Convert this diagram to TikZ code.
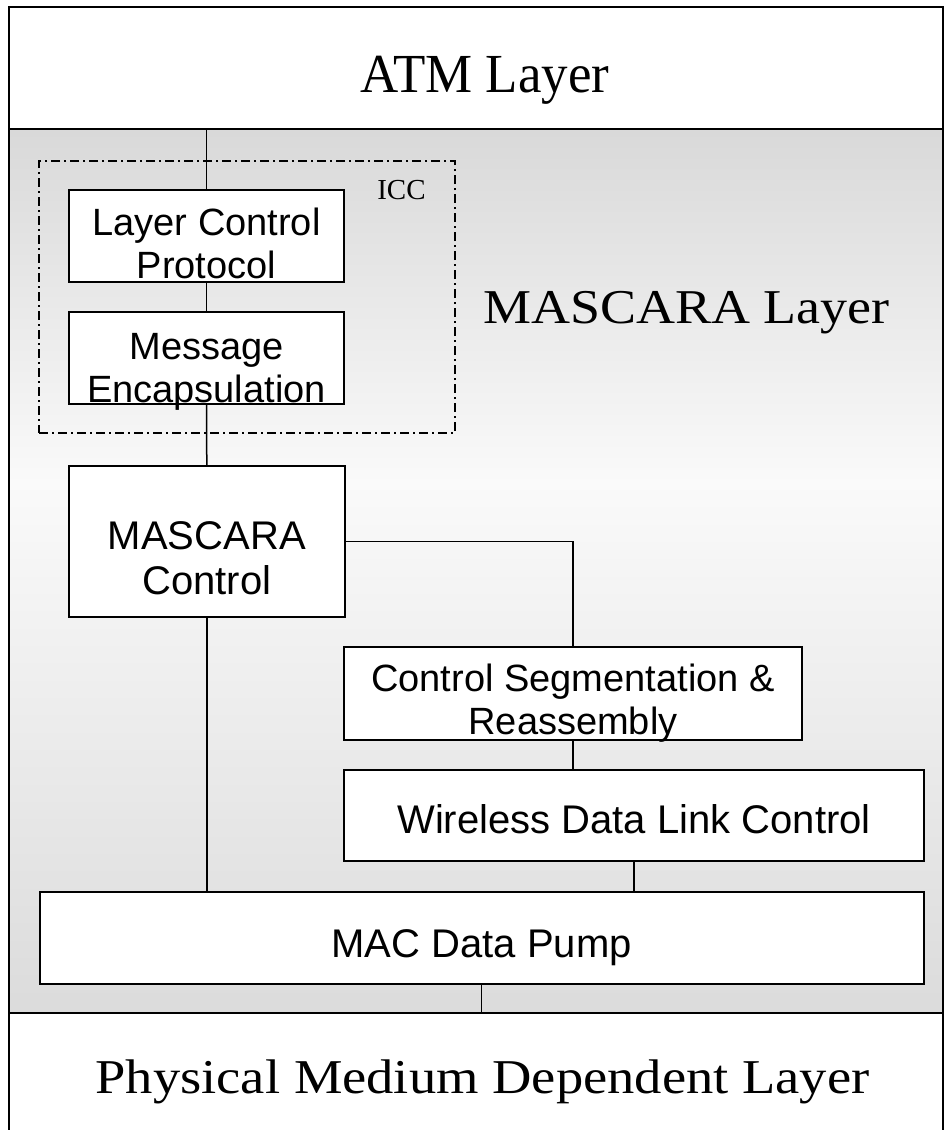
\documentclass[tikz,border=0pt]{standalone}
\usepackage{fontspec}
\setmainfont{Liberation Serif}
\newfontfamily\arialf{Liberation Sans}
\usetikzlibrary{calc}
\pgfdeclareverticalshading{mascshade}{100bp}{color(0bp)=(black!14); color(25bp)=(black!14); color(55bp)=(black!2); color(75bp)=(black!15); color(100bp)=(black!15)}
\newcommand{\twolns}[2]{\begin{tabular}[b]{@{}c@{}}#1\\#2\end{tabular}}
\begin{document}
\begin{tikzpicture}[x=0.5pt,y=-0.5pt,
  frameline/.style={line width=1.3pt, line cap=rect},
  boxnode/.style={draw, line width=1pt, fill=white, inner sep=0pt, anchor=base,
    font=\arialf\fontsize{19}{21.5}\selectfont},
  bigbox/.style={boxnode, font=\arialf\fontsize{20}{22.5}\selectfont},
  conn/.style={line width=0.75pt},
  iccbox/.style={draw, line width=0.65pt, dash pattern=on 4.5pt off 2pt on 1pt off 2pt, inner sep=0pt},
  bigtext/.style={inner sep=0pt, anchor=base, font=\fontsize{27}{30}\selectfont},
  icctext/.style={inner sep=0pt, anchor=base, font=\fontsize{14.5}{16}\selectfont}]
\useasboundingbox (0,0) rectangle (946,1130);
\fill[white] (0,0) rectangle (946,1130);
% MASCARA layer shaded band
\shade[shading=mascshade] (9,129) rectangle (943,1013);
% frame
\coordinate (septop) at (9,129);
\coordinate (sepbot) at (9,1013);
\draw[frameline] (9,1145) -- (9,7) -- (943,7) -- (943,1145);
\draw[frameline] (septop) -- (943,129);
\draw[frameline] (sepbot) -- (943,1013);
% layer titles
\node[bigtext] (atm) at (485,92) {\scalebox{0.98}[1.02]{ATM Layer}};
\node[bigtext] (masc) at (686.5,323) {\scalebox{1}[0.9]{MASCARA Layer}};
\node[bigtext] (pmd) at (482.5,1093) {\scalebox{1.01}[0.9]{Physical Medium Dependent Layer}};
% ICC
\node[iccbox, minimum width=208pt, minimum height=136pt] (icc) at (247,297) {};
\node[icctext] (icclabel) at (401.5,199) {ICC};
% boxes
\node[boxnode, minimum width=137.5pt, text height=44pt, text depth=2pt] (lcp) at (206.5,278) {\twolns{Layer Control}{Protocol}};
\node[boxnode, minimum width=137.5pt, text height=45pt, text depth=1pt] (me) at (206.5,402) {\twolns{Message}{Encapsulation}};
\node[bigbox, minimum width=137.75pt, text height=64pt, text depth=11.5pt] (mc) at (206.8,594) {\twolns{MASCARA}{Control}};
\node[boxnode, minimum width=229pt, text height=43.5pt, text depth=3pt] (csr) at (573,734) {\twolns{Control Segmentation \&}{Reassembly}};
\node[bigbox, minimum width=290pt, text height=31.5pt, text depth=14pt] (wdlc) at (634,833) {Wireless Data Link Control};
\node[bigbox, minimum width=442pt, text height=32.5pt, text depth=13.5pt] (mac) at (481.6,957) {MAC Data Pump};
% connectors
\draw[conn] (lcp.north) -- (lcp.north |- septop);
\draw[conn] (lcp.south) -- (me.north);
\draw[conn] (me.south) -- (mc.north);
\draw[conn] (mc.east) -| (csr.north);
\draw[conn] (csr.south) -- (csr.south |- wdlc.north);
\draw[conn] (wdlc.south) -- (wdlc.south |- mac.north);
\draw[conn] (mc.south) -- (mc.south |- mac.north);
\draw[conn] (mac.south) -- (mac.south |- sepbot);
\end{tikzpicture}
\end{document}
